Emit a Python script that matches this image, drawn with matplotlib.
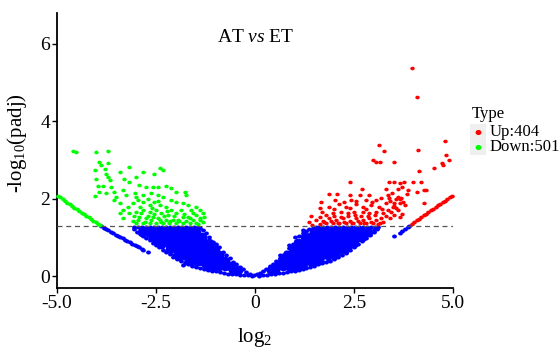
import numpy as np
import matplotlib
matplotlib.use("Agg")
import matplotlib.pyplot as plt
from matplotlib.path import Path
from matplotlib.patches import Rectangle
from matplotlib.lines import Line2D

plt.rcParams['font.family'] = ['Liberation Serif', 'DejaVu Serif']
plt.rcParams['mathtext.fontset'] = 'custom'
plt.rcParams['mathtext.rm'] = 'Liberation Serif'
plt.rcParams['mathtext.it'] = 'Liberation Serif:italic'
plt.rcParams['mathtext.default'] = 'regular'

# ---------------- data (log2FC, -log10 padj) ----------------
up_x = [3.96, 4.10, 3.12, 3.27, 4.11, 4.81, 4.83, 4.89, 4.72, 4.74, 4.52, 2.97, 3.06, 3.16, 3.51,
        4.15, 2.39, 3.38, 3.52, 3.65, 3.76, 3.98, 4.20, 4.28, 4.32, 4.09, 4.26, 3.86, 3.83, 2.69,
        1.86, 2.07, 2.41, 2.64, 2.89, 3.35, 3.61, 3.69, 3.73, 3.78, 1.63, 1.42, 1.36, 1.88, 2.12,
        2.30, 2.56, 2.72, 2.93, 3.14, 3.31, 3.48, 3.61, 3.52, 3.65, 3.40, 3.23, 3.06, 2.89, 2.72,
        2.51, 2.34, 2.18, 1.96, 1.80, 1.63, 1.55, 1.71, 1.88, 2.05, 2.22, 2.39, 2.56, 2.72, 2.89,
        3.06, 3.23, 1.96, 2.13, 2.30, 2.47, 2.64, 2.81, 2.98, 3.15, 1.80, 1.63, 2.26, 2.43, 2.81,
        3.06, 3.19, 3.52, 3.65, 1.67, 2.01, 1.45, 1.75, 1.92, 2.00, 2.10, 2.18, 2.26, 2.35, 2.45,
        2.52, 2.60, 2.68, 2.76, 2.85, 2.94, 3.02, 3.10, 3.18, 3.30, 3.36, 3.44, 3.56, 3.70, 2.00,
        2.40, 2.80, 3.20, 1.70, 2.55, 2.95, 3.40, 3.55, 3.45, 3.60, 3.70, 3.30, 3.50, 3.38, 3.66]
up_y = [5.39, 4.63, 3.39, 3.23, 3.27, 3.50, 3.12, 3.00, 2.91, 2.87, 2.80, 3.00, 2.95, 2.94, 2.94,
        2.72, 2.44, 2.44, 2.44, 2.41, 2.44, 2.44, 2.44, 2.22, 2.22, 2.18, 1.89, 2.22, 2.12, 2.24,
        2.11, 2.11, 2.09, 2.09, 2.09, 2.09, 2.05, 2.01, 1.92, 1.83, 1.75, 1.56, 1.40, 1.79, 1.86,
        1.79, 1.86, 1.79, 1.83, 1.79, 1.88, 1.79, 1.71, 1.58, 1.53, 1.49, 1.62, 1.66, 1.62, 1.66,
        1.66, 1.62, 1.66, 1.62, 1.58, 1.53, 1.45, 1.43, 1.49, 1.45, 1.49, 1.43, 1.49, 1.45, 1.49,
        1.45, 1.40, 1.36, 1.36, 1.36, 1.36, 1.36, 1.36, 1.36, 1.36, 1.36, 1.35, 1.92, 1.96, 1.96,
        1.96, 2.01, 1.88, 1.88, 1.92, 1.96, 1.33, 1.40, 1.42, 1.55, 1.38, 1.52, 1.40, 1.55, 1.36,
        1.58, 1.42, 1.55, 1.38, 1.55, 1.40, 1.58, 1.35, 1.50, 1.55, 1.70, 1.66, 1.75, 1.60, 1.72,
        1.75, 1.72, 1.72, 1.65, 1.95, 1.92, 1.95, 2.00, 2.15, 2.25, 2.30, 2.25, 1.82, 2.02, 1.98]

up_line_x = [3.96, 4.02, 4.08, 4.14, 4.20, 4.26, 4.32, 4.38, 4.44, 4.50, 4.56, 4.62, 4.68, 4.74,
             4.80, 4.86, 4.92, 4.98]
up_line_y = [1.35, 1.39, 1.44, 1.48, 1.52, 1.57, 1.61, 1.65, 1.70, 1.74, 1.78, 1.83, 1.87, 1.91,
             1.95, 2.00, 2.04, 2.08]

down_x = [-4.60, -4.52, -4.01, -3.70, -3.94, -3.88, -3.72, -4.05, -3.80, -3.76, -4.01, -3.72, -3.67,
          -3.97, -3.84, -3.63, -4.05, -3.93, -3.76, -3.55, -3.42, -3.19, -3.30, -3.17, -3.00, -2.83,
          -2.54, -2.41, -2.33, -2.92, -2.75, -2.58, -2.45, -2.24, -2.12, -1.99, -1.78, -1.74, -3.34,
          -3.51, -3.25, -3.04, -2.83, -2.62, -2.45, -2.33, -2.12, -1.99, -1.82, -1.70, -1.48, -1.40,
          -1.32, -1.57, -1.65, -1.40, -1.82, -1.99, -2.12, -2.24, -2.41, -2.54, -2.66, -2.83, -2.96,
          -3.09, -3.21, -3.34, -3.42, -3.55, -3.17, -3.00, -2.83, -2.66, -2.50, -2.37, -2.20, -2.92,
          -2.75, -2.58, -2.41, -2.24, -2.08, -1.91, -1.74, -1.57, -3.09, -3.00, -2.83, -2.66, -2.50,
          -2.33, -2.16, -1.99, -1.82, -1.65, -1.48, -1.32, -1.28, -3.34, -3.42, -3.05, -2.95, -2.88,
          -2.78, -2.70, -2.62, -2.55, -2.45, -2.38, -2.30, -2.22, -2.15, -2.05, -1.95, -1.88, -1.80,
          -1.70, -1.62, -1.50, -1.45, -1.38, -2.90, -2.60, -2.45, -2.70, -3.00]
down_y = [3.24, 3.20, 3.20, 3.22, 2.94, 2.87, 2.91, 2.74, 2.76, 2.65, 2.52, 2.57, 2.48, 2.33, 2.33,
          2.31, 2.07, 2.18, 2.14, 2.18, 2.70, 2.81, 2.52, 2.44, 2.57, 2.68, 2.65, 2.78, 2.74, 2.35,
          2.29, 2.29, 2.31, 2.33, 2.27, 2.18, 2.18, 2.09, 2.22, 2.05, 2.09, 2.14, 2.09, 2.14, 2.09,
          2.05, 1.96, 1.92, 1.88, 1.83, 1.78, 1.71, 1.62, 1.62, 1.49, 1.49, 1.53, 1.62, 1.71, 1.79,
          1.83, 1.92, 1.83, 1.92, 1.96, 1.88, 1.79, 1.71, 1.88, 1.96, 1.62, 1.66, 1.71, 1.66, 1.71,
          1.62, 1.58, 1.53, 1.49, 1.52, 1.46, 1.45, 1.46, 1.43, 1.43, 1.45, 1.43, 1.36, 1.38, 1.36,
          1.36, 1.38, 1.36, 1.36, 1.36, 1.36, 1.38, 1.40, 1.52, 1.49, 1.62, 1.55, 1.45, 1.62, 1.40,
          1.55, 1.45, 1.60, 1.50, 1.40, 1.55, 1.68, 1.42, 1.55, 1.45, 1.70, 1.60, 1.52, 1.70, 1.58,
          1.35, 1.45, 1.78, 1.75, 1.95, 2.00, 2.05]

down_line_x = [-4.98, -4.92, -4.86, -4.80, -4.74, -4.68, -4.62, -4.56, -4.50, -4.44, -4.38, -4.32,
               -4.26, -4.20, -4.14, -4.08, -4.02, -3.96, -3.92]
down_line_y = [2.08, 2.04, 1.99, 1.95, 1.90, 1.86, 1.81, 1.77, 1.73, 1.69, 1.64, 1.60, 1.56, 1.52,
               1.47, 1.43, 1.39, 1.35, 1.32]

# non-significant genes: outline and scattered points of the dense cloud
ns_x = [-3.88, -3.82, -3.76, -3.70, -3.64, -3.58, -3.52, -3.46, -3.40, -3.34, -3.28, -3.22, -3.16,
        -3.10, -3.04, -2.98, -2.92, -2.86, -2.82, -2.70, -1.83,
        3.52, 3.65, 3.72, 3.80, 3.86, 3.90,
        -3.05, -2.95, -2.85, -2.75, -2.65, -2.55, -2.45, -2.35, -2.25, -2.15, -2.05, -1.95, -1.85,
        -1.75, -1.65, -1.55, -1.45,
        -1.40, -1.32, -1.23, -1.15, -1.07, -0.98, -0.90, -0.81, -0.72, -0.64, -0.56, -0.47, -0.39,
        -0.30, -0.22, -0.12, -0.03,
        -3.05, -2.98, -2.90, -2.82, -2.74, -2.66, -2.58, -2.50, -2.42, -2.33, -2.24, -2.15, -2.06,
        -1.97, -1.88, -1.78, -1.68, -1.58, -1.48, -1.38, -1.28, -1.18, -1.08, -0.98, -0.88, -0.78,
        -0.68, -0.58, -0.48, -0.38, -0.28, -0.18, -0.08,
        -1.30, -1.45, -1.60, -1.75, -1.90, -2.05, -2.20, -2.35, -2.50, -2.65, -2.80,
        0.05, 0.12, 0.20, 0.29, 0.37, 0.46, 0.54, 0.62, 0.70, 0.79, 0.87, 0.95, 1.03, 1.12, 1.20,
        1.28, 1.37, 1.46, 1.55,
        1.62, 1.72, 1.82, 1.92, 2.02, 2.12, 2.22, 2.32, 2.42, 2.52, 2.62, 2.72, 2.82, 2.92, 3.02,
        3.10,
        0.10, 0.20, 0.30, 0.40, 0.50, 0.60, 0.70, 0.80, 0.90, 1.00, 1.10, 1.20, 1.30, 1.40, 1.50,
        1.60, 1.70, 1.80, 1.90, 2.00, 2.10, 2.20, 2.30, 2.40, 2.50, 2.60, 2.70, 2.80, 2.90, 3.00,
        3.08,
        1.25, 1.40, 1.55, 1.70, 1.85, 1.95, 2.10, 2.25, 2.40, 2.55, 2.70, 2.85, 3.00,
        0.62, 0.85, 1.00, 1.20]
ns_y = [1.29, 1.25, 1.22, 1.18, 1.14, 1.11, 1.07, 1.04, 1.01, 0.97, 0.94, 0.90, 0.87,
        0.84, 0.80, 0.77, 0.74, 0.70, 0.68, 0.62, 0.28,
        1.03, 1.12, 1.16, 1.22, 1.26, 1.30,
        1.27, 1.26, 1.28, 1.27, 1.26, 1.28, 1.27, 1.26, 1.28, 1.27, 1.26, 1.28, 1.27,
        1.26, 1.28, 1.27, 1.26,
        1.25, 1.18, 1.12, 1.02, 0.89, 0.82, 0.74, 0.63, 0.55, 0.46, 0.37, 0.30, 0.23,
        0.17, 0.11, 0.06, 0.03,
        1.22, 1.15, 1.10, 1.03, 0.97, 0.92, 0.86, 0.80, 0.74, 0.68, 0.62, 0.56, 0.50,
        0.44, 0.39, 0.34, 0.30, 0.27, 0.24, 0.21, 0.19, 0.16, 0.14, 0.12, 0.10, 0.08,
        0.06, 0.05, 0.04, 0.03, 0.02, 0.02, 0.01,
        0.26, 0.30, 0.34, 0.39, 0.45, 0.55, 0.66, 0.76, 0.87, 0.98, 1.10,
        0.04, 0.08, 0.12, 0.19, 0.26, 0.32, 0.38, 0.46, 0.55, 0.63, 0.72, 0.82, 0.91, 1.03, 1.10,
        1.16, 1.21, 1.25, 1.27,
        1.27, 1.26, 1.28, 1.27, 1.26, 1.28, 1.27, 1.26, 1.28, 1.27, 1.26, 1.28, 1.27, 1.26, 1.28,
        1.27,
        0.01, 0.02, 0.03, 0.04, 0.06, 0.07, 0.09, 0.10, 0.12, 0.13, 0.15, 0.18, 0.21, 0.24, 0.27,
        0.30, 0.33, 0.36, 0.40, 0.44, 0.48, 0.54, 0.60, 0.67, 0.74, 0.82, 0.90, 0.98, 1.06, 1.14,
        1.22,
        0.27, 0.31, 0.35, 0.40, 0.44, 0.48, 0.55, 0.64, 0.75, 0.86, 0.97, 1.08, 1.20,
        0.55, 0.80, 1.00, 1.18]

# non-significant genes: core of the dense cloud
core_x = [-2.85, -2.70, -2.55, -2.40, -2.25, -2.10, -1.95, -1.80, -1.65, -1.50,
          -2.55, -2.40, -2.25, -2.10, -1.95, -1.80, -1.65, -1.50, -1.35,
          -2.35, -2.20, -2.05, -1.90, -1.75, -1.60, -1.45, -1.30, -1.15,
          -2.15, -2.00, -1.85, -1.70, -1.55, -1.40, -1.25, -1.10, -1.00,
          -1.95, -1.80, -1.65, -1.50, -1.35, -1.20, -1.05, -0.90,
          -1.65, -1.50, -1.35, -1.20, -1.05, -0.90, -0.75,
          -1.20, -1.05, -0.90, -0.75, -0.62, -0.55, -0.42,
          1.50, 1.65, 1.80, 1.95, 2.10, 2.25, 2.40, 2.55, 2.70, 2.85,
          1.25, 1.40, 1.55, 1.70, 1.85, 2.00, 2.15, 2.30, 2.45, 2.60, 2.70,
          1.08, 1.20, 1.35, 1.50, 1.65, 1.80, 1.95, 2.10, 2.25, 2.40, 2.50,
          0.95, 1.10, 1.25, 1.40, 1.55, 1.70, 1.85, 2.00, 2.15, 2.28,
          0.82, 0.95, 1.10, 1.25, 1.40, 1.55, 1.70, 1.85, 2.00,
          0.68, 0.82, 0.97, 1.12, 1.27, 1.42, 1.57,
          0.55, 0.70, 0.85, 1.00, 1.12, 0.40, 0.50]
core_y = [1.15, 1.15, 1.15, 1.15, 1.15, 1.15, 1.15, 1.15, 1.15, 1.15,
          1.00, 1.00, 1.00, 1.00, 1.00, 1.00, 1.00, 1.00, 1.00,
          0.85, 0.85, 0.85, 0.85, 0.85, 0.85, 0.85, 0.85, 0.85,
          0.70, 0.70, 0.70, 0.70, 0.70, 0.70, 0.70, 0.70, 0.70,
          0.55, 0.55, 0.55, 0.55, 0.55, 0.55, 0.55, 0.55,
          0.40, 0.40, 0.40, 0.40, 0.40, 0.40, 0.40,
          0.27, 0.27, 0.27, 0.27, 0.27, 0.15, 0.15,
          1.15, 1.15, 1.15, 1.15, 1.15, 1.15, 1.15, 1.15, 1.15, 1.15,
          1.00, 1.00, 1.00, 1.00, 1.00, 1.00, 1.00, 1.00, 1.00, 1.00, 1.00,
          0.85, 0.85, 0.85, 0.85, 0.85, 0.85, 0.85, 0.85, 0.85, 0.85, 0.85,
          0.70, 0.70, 0.70, 0.70, 0.70, 0.70, 0.70, 0.70, 0.70, 0.70,
          0.55, 0.55, 0.55, 0.55, 0.55, 0.55, 0.55, 0.55, 0.55,
          0.40, 0.40, 0.40, 0.40, 0.40, 0.40, 0.40,
          0.27, 0.27, 0.27, 0.27, 0.27, 0.15, 0.15]

threshold = 1.301
x_ticks = [-5.0, -2.5, 0.0, 2.5, 5.0]
x_tick_labels = ['-5.0', '-2.5', '0', '2.5', '5.0']
y_ticks = [0, 2, 4, 6]
y_tick_labels = ['0', '2', '4', '6']
legend_labels = ['Up:404', 'Down:501']

# ---------------- drawing ----------------
W, H = 559, 348
fig = plt.figure(figsize=(W / 100, H / 100), dpi=100)
ax = fig.add_axes([57 / W, 1 - 288 / H, (453 - 57) / W, (288 - 13) / H])
ax.set_xlim(-5.0, 5.0)
ax.set_ylim(-0.31, 6.80)

theta = np.linspace(0, 2 * np.pi, 36)
ell = Path(np.column_stack([1.2 * np.cos(theta), np.sin(theta)]), closed=True)

RED, GREEN, BLUE = '#FF0000', '#00FF00', '#0000FF'
kw = dict(marker=ell, linewidths=0, clip_on=False)
ax.scatter(core_x, core_y, s=48, marker='o', color=BLUE, linewidths=0, clip_on=False, zorder=2)
ax.scatter(ns_x, ns_y, s=12, color=BLUE, zorder=2, **kw)
ax.scatter(down_line_x, down_line_y, s=11, color=GREEN, zorder=3, **kw)
ax.scatter(down_x, down_y, s=10, color=GREEN, zorder=3, **kw)
ax.scatter(up_line_x, up_line_y, s=11, color=RED, zorder=3, **kw)
ax.scatter(up_x, up_y, s=10, color=RED, zorder=3, **kw)

ax.axhline(threshold, color='#555555', lw=0.9, dashes=(4, 3), zorder=4)

for side in ['top', 'right']:
    ax.spines[side].set_visible(False)
for side in ['left', 'bottom']:
    ax.spines[side].set_linewidth(1.3)
    ax.spines[side].set_color('black')
ax.set_xticks(x_ticks)
ax.set_xticklabels(x_tick_labels)
ax.set_yticks(y_ticks)
ax.set_yticklabels(y_tick_labels)
ax.tick_params(direction='out', length=3.5, width=1.0, labelsize=14, pad=1.5, colors='black')

# titles / labels
fig.text(256 / W, 1 - 37 / H, r'AT $\it{vs}$ ET', ha='center', va='center', fontsize=14)
fig.text(17 / W, 1 - 143 / H, r'-log$_{10}$(padj)', rotation=90, ha='center', va='center',
         fontsize=15)
fig.text(255 / W, 1 - 342 / H, r'log$_{2}$', ha='center', va='baseline', fontsize=15)

# legend (ggplot style)
fig.text(472 / W, 1 - 114 / H, 'Type', ha='left', va='center', fontsize=12)
for i, (lab, col) in enumerate(zip(legend_labels, [RED, GREEN])):
    yc = 132 + 15 * i
    fig.add_artist(Rectangle((470 / W, 1 - (yc + 7.5) / H), 16 / W, 15 / H,
                             transform=fig.transFigure, fc='#EFEFEF', ec='none'))
    fig.add_artist(Line2D([478 / W], [1 - yc / H], marker=ell, ms=3.2, color=col, lw=0,
                          transform=fig.transFigure))
    fig.text(490 / W, 1 - yc / H, lab, ha='left', va='center', fontsize=12)

fig.savefig('out.png', dpi=100)
